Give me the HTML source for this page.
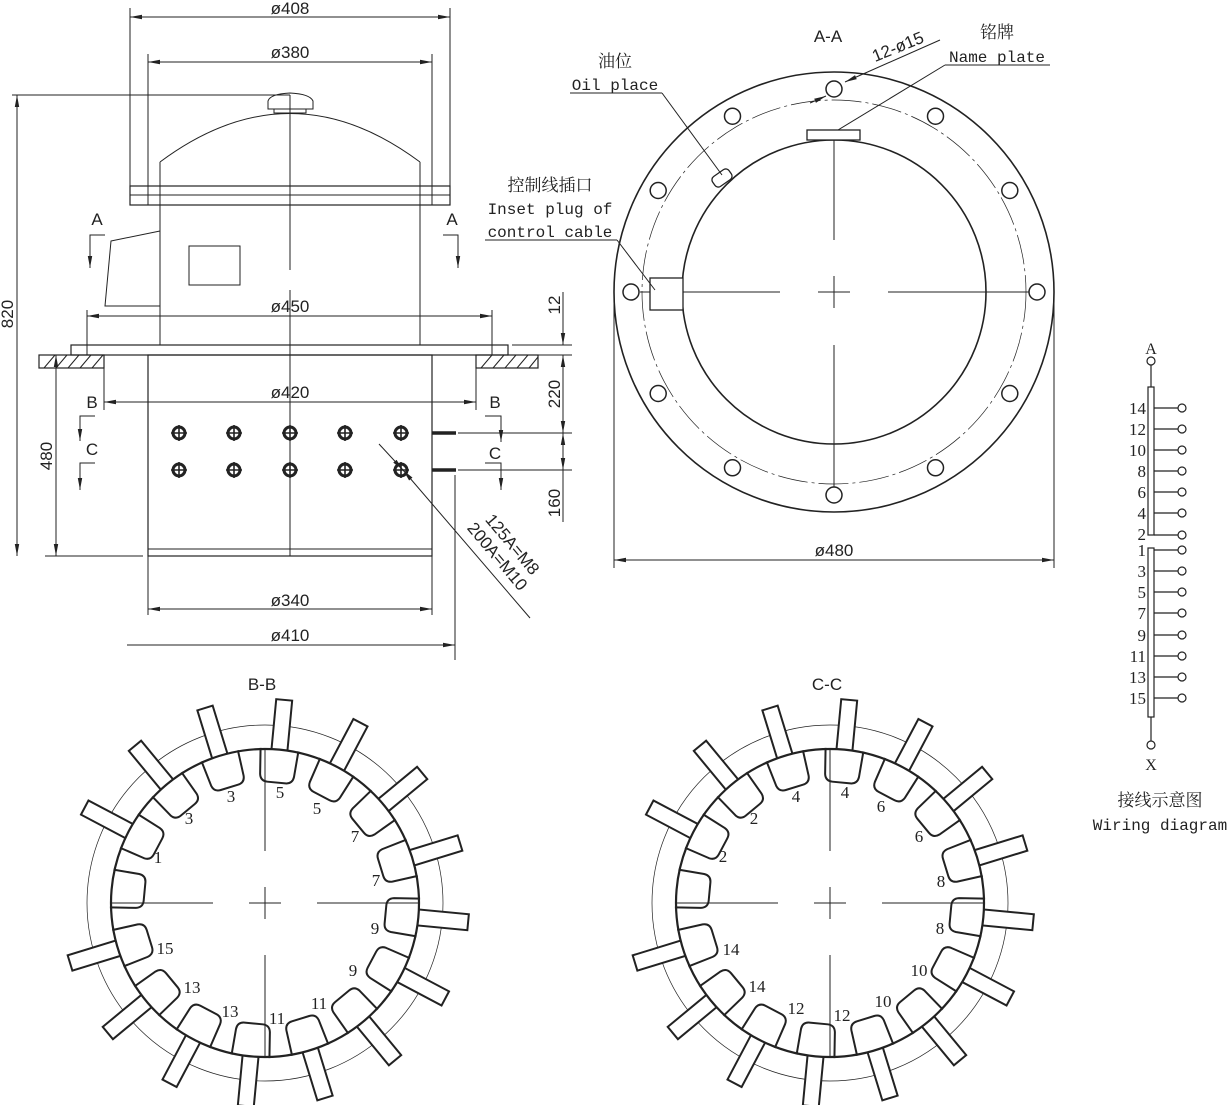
<!DOCTYPE html>
<html><head><meta charset="utf-8"><style>
html,body{margin:0;padding:0;background:#fff;}
svg{display:block;}
.d{font-family:"Liberation Sans",sans-serif;font-size:17px;fill:#222;}
.s{font-family:"Liberation Serif","Noto Serif CJK SC",serif;font-size:16px;fill:#222;}
.m{font-family:"Liberation Mono","Noto Sans CJK SC",monospace;font-size:16px;fill:#222;}
.c{font-family:"Liberation Serif","Noto Serif CJK SC","Noto Sans CJK SC",serif;font-size:17px;fill:#222;}
</style></head><body>
<svg id="g" width="1232" height="1105" viewBox="0 0 1232 1105" xmlns="http://www.w3.org/2000/svg">
<defs>
<marker id="ar" markerWidth="12" markerHeight="6" refX="12" refY="3" orient="auto-start-reverse" markerUnits="userSpaceOnUse"><path d="M0,0.8 L12,3 L0,5.2z" fill="#222"/></marker>
</defs>
<g stroke="#222" fill="none" stroke-width="1">
<line x1="130" y1="8" x2="130" y2="186"/><line x1="450" y1="8" x2="450" y2="186"/>
<line x1="130" y1="17" x2="450" y2="17" marker-start="url(#ar)" marker-end="url(#ar)"/>
<line x1="148" y1="54" x2="148" y2="186"/><line x1="432" y1="54" x2="432" y2="186"/>
<line x1="148" y1="62" x2="432" y2="62" marker-start="url(#ar)" marker-end="url(#ar)"/>
<path d="M160,162 Q290,65 420,162" stroke-width="1"/>
<path d="M268,109 L268,101 Q270,94 290,93 Q310,94 313,101 L313,109 Z M274,109 L274,113 L306,113 L306,109" fill="#fff"/>
<line x1="12" y1="95" x2="290" y2="95"/>
<line x1="17" y1="95" x2="17" y2="556" marker-start="url(#ar)" marker-end="url(#ar)"/>
<rect x="130" y="186" width="320" height="19" stroke-width="1.2"/>
<line x1="130" y1="195" x2="450" y2="195"/>
<line x1="148" y1="186" x2="148" y2="205"/><line x1="432" y1="186" x2="432" y2="205"/>
<line x1="160" y1="162" x2="160" y2="345"/><line x1="420" y1="162" x2="420" y2="345"/>
<path d="M111,241 L160,231 L160,306 L105,306 Z"/>
<rect x="189" y="246" width="51" height="39"/>
<line x1="290" y1="95" x2="290" y2="270"/><line x1="290" y1="290" x2="290" y2="556"/>
<line x1="87" y1="310" x2="87" y2="355"/><line x1="492" y1="310" x2="492" y2="355"/>
<line x1="87" y1="316" x2="492" y2="316" marker-start="url(#ar)" marker-end="url(#ar)"/>
<rect x="71" y="345" width="437" height="10" stroke-width="1.2"/>
<rect x="39" y="355" width="65" height="13" stroke-width="1.2"/>
<rect x="476" y="355" width="62" height="13" stroke-width="1.2"/>
<path d="M44,368 L55,355 M56,368 L67,355 M68,368 L79,355 M80,368 L91,355 M92,368 L103,355 M481,368 L492,355 M493,368 L504,355 M505,368 L516,355 M517,368 L528,355 M529,368 L538,357"/>
<rect x="148" y="355" width="284" height="201" stroke-width="1.2"/>
<line x1="148" y1="549" x2="432" y2="549"/>
<line x1="104" y1="368" x2="104" y2="410"/><line x1="476" y1="368" x2="476" y2="410"/>
<line x1="104" y1="402" x2="476" y2="402" marker-start="url(#ar)" marker-end="url(#ar)"/>
<line x1="56" y1="355" x2="56" y2="556" marker-start="url(#ar)" marker-end="url(#ar)"/>
<line x1="45" y1="556" x2="143" y2="556"/>
<line x1="148" y1="556" x2="148" y2="615"/><line x1="432" y1="556" x2="432" y2="615"/>
<line x1="148" y1="609" x2="432" y2="609" marker-start="url(#ar)" marker-end="url(#ar)"/>
<line x1="455" y1="475" x2="455" y2="660"/>
<line x1="127" y1="645" x2="455" y2="645" marker-end="url(#ar)"/>
<line x1="432" y1="433" x2="456" y2="433" stroke-width="3.5"/>
<line x1="432" y1="470" x2="456" y2="470" stroke-width="3.5"/>
<line x1="512" y1="345" x2="572" y2="345"/><line x1="512" y1="355" x2="572" y2="355"/>
<line x1="458" y1="433" x2="572" y2="433"/><line x1="458" y1="470" x2="572" y2="470"/>
<line x1="563" y1="292" x2="563" y2="345" marker-end="url(#ar)"/>
<line x1="563" y1="355" x2="563" y2="433" marker-start="url(#ar)" marker-end="url(#ar)"/>
<line x1="563" y1="433" x2="563" y2="470" marker-start="url(#ar)" marker-end="url(#ar)"/>
<line x1="563" y1="470" x2="563" y2="522"/>
<path d="M105,235 L90,235 L90,268" marker-end="url(#ar)"/>
<path d="M443,235 L458,235 L458,268" marker-end="url(#ar)"/>
<path d="M95,416 L80,416 L80,441" marker-end="url(#ar)"/>
<path d="M95,463 L80,463 L80,490" marker-end="url(#ar)"/>
<path d="M485,416 L501,416 L501,442" marker-end="url(#ar)"/>
<path d="M485,463 L501,463 L501,490" marker-end="url(#ar)"/>
<line x1="379" y1="444" x2="403" y2="470" marker-end="url(#ar)"/>
<line x1="530" y1="618" x2="403" y2="470" marker-end="url(#ar)"/>
</g>
<g id="bolts" fill="#222"></g>
<text class="d" x="290" y="14" text-anchor="middle">ø408</text>
<text class="d" x="290" y="58" text-anchor="middle">ø380</text>
<text class="d" x="290" y="312" text-anchor="middle">ø450</text>
<text class="d" x="290" y="398" text-anchor="middle">ø420</text>
<text class="d" x="290" y="606" text-anchor="middle">ø340</text>
<text class="d" x="290" y="641" text-anchor="middle">ø410</text>
<text class="d" x="97" y="225" text-anchor="middle">A</text>
<text class="d" x="452" y="225" text-anchor="middle">A</text>
<text class="d" x="92" y="408" text-anchor="middle">B</text>
<text class="d" x="495" y="408" text-anchor="middle">B</text>
<text class="d" x="92" y="455" text-anchor="middle">C</text>
<text class="d" x="495" y="459" text-anchor="middle">C</text>
<text class="d" transform="translate(13,314) rotate(-90)" text-anchor="middle">820</text>
<text class="d" transform="translate(52,456) rotate(-90)" text-anchor="middle">480</text>
<text class="d" transform="translate(560,305) rotate(-90)" text-anchor="middle">12</text>
<text class="d" transform="translate(560,394) rotate(-90)" text-anchor="middle">220</text>
<text class="d" transform="translate(560,503) rotate(-90)" text-anchor="middle">160</text>
<text class="d" transform="translate(508,548) rotate(50)" text-anchor="middle">125A=M8</text>
<text class="d" transform="translate(493,560) rotate(50)" text-anchor="middle">200A=M10</text>

<g stroke="#222" fill="none">
<circle cx="834" cy="292" r="220" stroke-width="1.6"/>
<circle cx="834" cy="292" r="152" stroke-width="1.6"/>
<circle cx="834" cy="292" r="192" stroke-width="0.7" stroke-dasharray="30 4 3 4"/>
<line x1="640" y1="292" x2="780" y2="292"/><line x1="818" y1="292" x2="850" y2="292"/><line x1="888" y1="292" x2="1030" y2="292"/>
<line x1="834" y1="140" x2="834" y2="240"/><line x1="834" y1="276" x2="834" y2="308"/><line x1="834" y1="345" x2="834" y2="500"/>
<rect x="807" y="130" width="53" height="10" fill="#fff" stroke-width="1.3"/>
<rect x="712" y="172" width="20" height="12" rx="4" transform="rotate(-35 722 178)" fill="#fff" stroke-width="1.3"/>
<rect x="650" y="278" width="33" height="32" fill="#fff" stroke-width="1.3"/>
<line x1="614" y1="300" x2="614" y2="568"/><line x1="1054" y1="300" x2="1054" y2="568"/>
<line x1="614" y1="560" x2="1054" y2="560" marker-start="url(#ar)" marker-end="url(#ar)"/>
<line x1="945" y1="65" x2="1050" y2="65"/><line x1="945" y1="65" x2="838" y2="130"/>
<line x1="570" y1="93" x2="662" y2="93"/><line x1="662" y1="93" x2="722" y2="175"/>
<line x1="485" y1="240" x2="617" y2="240"/><line x1="617" y1="240" x2="655" y2="290"/>
<line x1="940" y1="40" x2="845" y2="82" marker-end="url(#ar)"/>
<line x1="810" y1="103" x2="826" y2="96" marker-end="url(#ar)"/>
</g>
<g id="aa" stroke="#222" fill="#fff" stroke-width="1.5"></g>
<text class="d" x="828" y="42" text-anchor="middle">A-A</text>
<text class="d" x="834" y="556" text-anchor="middle">ø480</text>
<text class="d" transform="translate(900,52) rotate(-22)" text-anchor="middle">12-ø15</text>
<text class="c" x="997" y="38" text-anchor="middle">铭牌</text>
<text class="m" x="997" y="62" text-anchor="middle">Name plate</text>
<text class="c" x="615" y="67" text-anchor="middle">油位</text>
<text class="m" x="615" y="90" text-anchor="middle">Oil place</text>
<text class="c" x="550" y="191" text-anchor="middle">控制线插口</text>
<text class="m" x="550" y="214" text-anchor="middle">Inset plug of</text>
<text class="m" x="550" y="237" text-anchor="middle">control cable</text>

<g id="wr" stroke="#222" fill="none" stroke-width="1.2">
<rect x="1148" y="387" width="6" height="148"/>
<rect x="1148" y="548" width="6" height="169"/>
<line x1="1151" y1="365" x2="1151" y2="387"/><line x1="1151" y1="717" x2="1151" y2="741"/>
<circle cx="1151" cy="361" r="4" fill="#fff"/><circle cx="1151" cy="745" r="4" fill="#fff"/>
</g>
<g class="s" text-anchor="end" style="font-size:17px">
<text x="1146" y="414">14</text><text x="1146" y="435">12</text><text x="1146" y="456">10</text><text x="1146" y="477">8</text><text x="1146" y="498">6</text><text x="1146" y="519">4</text><text x="1146" y="540">2</text>
<text x="1146" y="556">1</text><text x="1146" y="577">3</text><text x="1146" y="598">5</text><text x="1146" y="619">7</text><text x="1146" y="641">9</text><text x="1146" y="662">11</text><text x="1146" y="683">13</text><text x="1146" y="704">15</text>
</g>
<text class="s" x="1151" y="354" text-anchor="middle">A</text>
<text class="s" x="1151" y="770" text-anchor="middle">X</text>
<text class="c" x="1160" y="806" text-anchor="middle">接线示意图</text>
<text class="m" x="1160" y="830" text-anchor="middle">Wiring diagram</text>

<text class="d" x="262" y="690" text-anchor="middle">B-B</text>
<text class="d" x="827" y="690" text-anchor="middle">C-C</text>
<g id="bb"></g><g id="cc"></g>
<g class="s" text-anchor="middle" style="font-size:17px">
<text x="231" y="802">3</text><text x="280" y="798">5</text><text x="317" y="814">5</text><text x="189" y="824">3</text><text x="355" y="842">7</text><text x="158" y="863">1</text><text x="376" y="886">7</text><text x="375" y="934">9</text><text x="165" y="954">15</text><text x="353" y="976">9</text><text x="192" y="993">13</text><text x="319" y="1009">11</text><text x="230" y="1017">13</text><text x="277" y="1024">11</text>
<text x="796" y="802">4</text><text x="845" y="798">4</text><text x="881" y="812">6</text><text x="754" y="824">2</text><text x="919" y="842">6</text><text x="723" y="862">2</text><text x="941" y="887">8</text><text x="940" y="934">8</text><text x="731" y="955">14</text><text x="919" y="976">10</text><text x="757" y="992">14</text><text x="796" y="1014">12</text><text x="883" y="1007">10</text><text x="842" y="1021">12</text>
</g>
</svg>
<script>
var NS="http://www.w3.org/2000/svg";
function el(p,t,a){var e=document.createElementNS(NS,t);for(var k in a)e.setAttribute(k,a[k]);p.appendChild(e);return e;}
var b=document.getElementById('bolts');
[179,234,290,345,401].forEach(function(x){[433,470].forEach(function(y){
 el(b,'circle',{cx:x,cy:y,r:6,fill:'none',stroke:'#222','stroke-width':3});
 el(b,'path',{d:'M'+(x-8)+','+y+'H'+(x+8)+'M'+x+','+(y-8)+'V'+(y+8),stroke:'#222','stroke-width':1.6});
});});
var aa=document.getElementById('aa');
for(var i=0;i<12;i++){var a=(-90+30*i)*Math.PI/180;el(aa,'circle',{cx:834+203*Math.cos(a),cy:292+203*Math.sin(a),r:8});}
var wr=document.getElementById('wr');
[408,429,450,471,492,513,535,550,571,592,613,635,656,677,698].forEach(function(y){
 el(wr,'line',{x1:1154,y1:y,x2:1178,y2:y});el(wr,'circle',{cx:1182,cy:y,r:4,fill:'#fff'});});
function ring(id,cx,cy){
 var g=document.getElementById(id);
 el(g,'circle',{cx:cx,cy:cy,r:178,fill:'none',stroke:'#222','stroke-width':0.7});
 for(var k=0;k<16;k++){
  var ang=-84.6+22.5*k;
  var t='translate('+cx+','+cy+') rotate('+ang+')';
  if(k!=12) el(g,'rect',{x:148,y:-8,width:56,height:16,fill:'#fff',stroke:'#222','stroke-width':2,transform:t});
 }
 el(g,'circle',{cx:cx,cy:cy,r:154,fill:'#fff',stroke:'none'});
 for(var k=0;k<16;k++){
  var ang=-84.6+22.5*k;
  var t='translate('+cx+','+cy+') rotate('+ang+')';
  el(g,'path',{d:'M154,-19 L128,-17 Q121,-16 121,-9 L121,9 Q121,16 128,17 L154,19',fill:'#fff',stroke:'#222','stroke-width':2,transform:t});
 }
 el(g,'circle',{cx:cx,cy:cy,r:154,fill:'none',stroke:'#222','stroke-width':2.2});
 var p='M'+(cx-154)+','+cy+'H'+(cx-52)+'M'+(cx+52)+','+cy+'H'+(cx+154)+'M'+(cx-16)+','+cy+'H'+(cx+16)+'M'+cx+','+(cy-154)+'V'+(cy-52)+'M'+cx+','+(cy+52)+'V'+(cy+154)+'M'+cx+','+(cy-16)+'V'+(cy+16);
 el(g,'path',{d:p,stroke:'#222','stroke-width':1,fill:'none'});
}
ring('bb',265,903);ring('cc',830,903);
</script>
</body></html>
